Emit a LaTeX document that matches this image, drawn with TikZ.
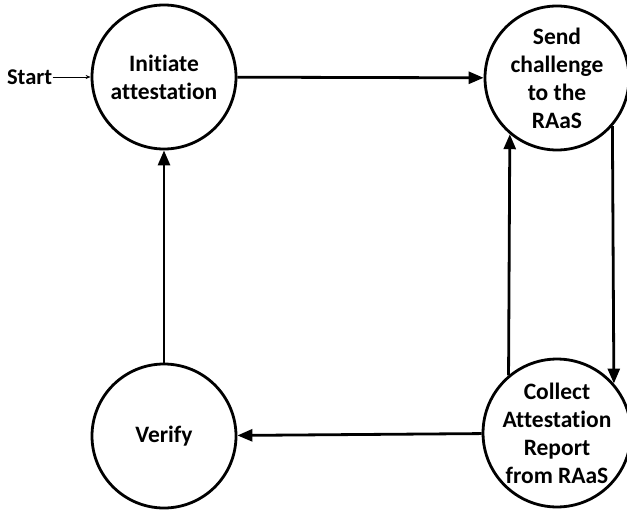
\documentclass[tikz,border=0pt]{standalone}
\usepackage{fontspec}
\setmainfont[Ligatures={NoCommon}]{Carlito}
\usetikzlibrary{shapes,arrows,arrows.meta,positioning}

\begin{document}
\begin{tikzpicture}[x=1pt, y=-1pt, thick, font=\fontsize{23.5}{28}\selectfont\bfseries]
    \tikzstyle{state} = [circle, draw, line width=2.8pt, minimum size=144pt, inner sep=0pt, align=center]
    \tikzstyle{line} = [draw, line width=2.8pt, -{Triangle[length=15pt,width=12pt]}]
    \useasboundingbox (0,0) rectangle (627,511);

    \node [state] (init) at (164,77) {Initiate\\attestation};
    \node [state] (send) at (557,78) {Send\\challenge\\to the\\RAaS};
    \node [state] (collect) at (557,433) {Collect\\Attestation\\Report\\from RAaS};
    \node [state] (verify) at (164,436) {Verify};
    \node [left=38pt of init, inner sep=0pt, font=\fontsize{22.5}{27}\selectfont\bfseries] (start) {Start};

    \draw [-{Stealth[length=5pt,width=4pt]}, line width=0.8pt] (start) -- (init);
    \path [line] (init) -- (send);
    \path [line] (send.-41) -- (collect.41);
    \path [line] (collect.130) -- (send.-130);
    \path [line] (collect) -- (verify);
    \path [line] (verify) -- (init);
\end{tikzpicture}
\end{document}
